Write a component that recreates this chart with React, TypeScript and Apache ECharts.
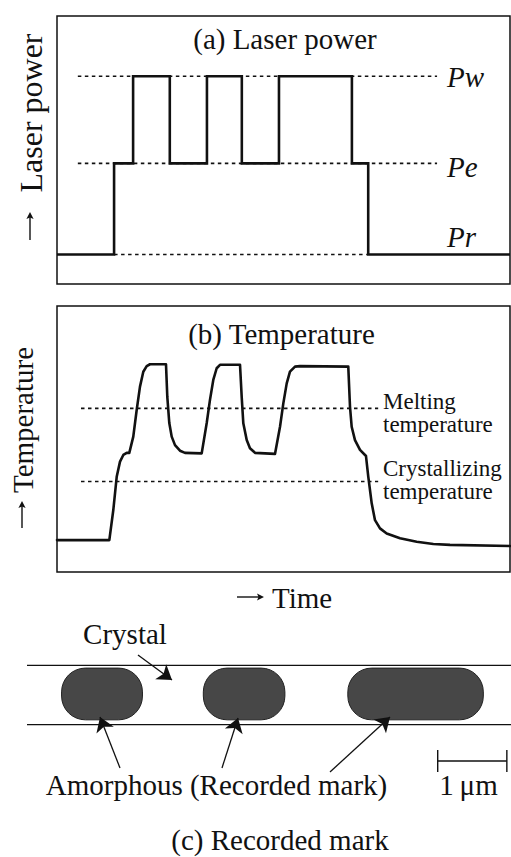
import React, { useEffect, useRef } from "react";
import * as echarts from "echarts";

// ---------- (a) Laser power ----------
const LEVEL_PR = 11;
const LEVEL_PE = 45;
const LEVEL_PW = 77.5;
const laserTimes = [0, 12.6, 16.8, 24.9, 33.1, 40.8, 49.0, 65.1, 68.7, 100];
const laserLevels = [LEVEL_PR, LEVEL_PE, LEVEL_PW, LEVEL_PE, LEVEL_PW, LEVEL_PE, LEVEL_PW, LEVEL_PE, LEVEL_PR, LEVEL_PR];
const laserRefRange = [4.6, 83.9];
const prRefRange = [12.6, 68.4];
const laserLevelNames = ["Pw", "Pe", "Pr"];

// ---------- (b) Temperature ----------
const tempTimes = [0, 11.55, 12.43, 13.18, 13.91, 14.64, 15.39, 15.96, 16.84, 17.59, 18.32, 19.05, 19.8, 20.53, 24.06, 24.35, 24.79, 25.32, 26.05, 27.15, 28.26, 31.94, 33.05, 33.77, 34.5, 35.25, 35.98, 40.4, 40.77, 41.13, 41.88, 42.6, 43.71, 48.12, 49.23, 49.96, 50.71, 51.43, 52.54, 53.64, 64.3, 64.68, 65.05, 65.78, 66.89, 68.21, 68.72, 69.47, 70.2, 71.3, 72.78, 75.72, 79.4, 83.07, 86.75, 100];
const tempValues = [12.0, 12.0, 23.3, 35.8, 41.5, 44.0, 44.8, 44.8, 50.9, 60.9, 69.7, 75.3, 77.4, 78.1, 78.1, 65.8, 56.0, 50.9, 47.7, 45.6, 44.8, 44.6, 56.0, 64.7, 72.2, 76.6, 77.9, 77.9, 65.9, 55.9, 49.6, 46.5, 44.8, 44.4, 54.6, 63.4, 70.9, 75.3, 77.2, 77.4, 77.2, 62.1, 54.6, 49.6, 45.9, 43.6, 35.8, 25.8, 19.5, 16.4, 14.5, 12.7, 11.4, 10.5, 10.2, 9.8];
const MELTING_T = 61.5;
const CRYSTALLIZING_T = 34.0;
const tempRefRange = [5.3, 70.9];
const tempRefNames = ["Melting\ntemperature", "Crystallizing\ntemperature"];

// ---------- (c) Recorded mark (µm) ----------
const markStarts = [0.5, 2.55, 4.64];
const markEnds = [1.67, 3.73, 6.6];
const markTop = 0.39;
const markBottom = -0.36;
const trackEdges = [0.43, -0.43];
const trackRange = [0, 7];
const scaleBarStart = 5.94;
const scaleBarLength = 1;
const scaleBarLevel = -0.957;
const arrowFrom = [[1.605, 0.58], [1.345, -1.058], [2.82, -1.058], [4.382, -1.116]];
const arrowTo = [[2.097, 0.217], [1.056, -0.319], [3.052, -0.333], [5.25, -0.319]];

const SERIF = "Liberation Serif, Times New Roman, serif";
const INK = "#111";

export default function App() {
  const ref = useRef<HTMLDivElement>(null);

  useEffect(() => {
    if (!ref.current) return;
    const chart = echarts.init(ref.current, null, { renderer: "svg" });

    const hiddenAxis = (gridIndex: number, min: number, max: number) => ({
      type: "value",
      gridIndex,
      min,
      max,
      show: false,
      axisLine: { show: false },
      axisTick: { show: false },
      axisLabel: { show: false },
      splitLine: { show: false },
    });

    const dotted = (xi: number, from: number, to: number, y: number) => ({
      type: "line",
      xAxisIndex: xi,
      yAxisIndex: xi,
      data: [[from, y], [to, y]],
      symbol: "none",
      silent: true,
      z: 1,
      lineStyle: { color: INK, width: 1.6, type: [3.5, 3.5] },
    });

    const text = (t: string, x: number, y: number, size: number, extra: any = {}) => ({
      type: "text",
      x,
      y,
      ...(extra.rotation !== undefined ? { rotation: extra.rotation } : {}),
      style: {
        text: t,
        fill: INK,
        fontFamily: SERIF,
        fontSize: size,
        fontStyle: extra.italic ? "italic" : "normal",
        align: extra.align || "center",
        verticalAlign: "middle",
        ...(extra.lineHeight ? { lineHeight: extra.lineHeight } : {}),
      },
    });

    // small typographic arrow (→) drawn from tail (x1,y1) to head (x2,y2)
    const glyphArrow = (x1: number, y1: number, x2: number, y2: number) => {
      const dx = x2 - x1, dy = y2 - y1;
      const len = Math.hypot(dx, dy);
      const ux = dx / len, uy = dy / len;
      const hl = 7, hw = 3.6;
      const bx = x2 - ux * hl, by = y2 - uy * hl;
      return {
        type: "group",
        children: [
          { type: "line", shape: { x1, y1, x2: bx + ux * 2, y2: by + uy * 2 }, style: { stroke: INK, lineWidth: 1.4 } },
          {
            type: "polygon",
            shape: { points: [[x2, y2], [bx - uy * hw, by + ux * hw], [bx + ux * 1.5, by + uy * 1.5], [bx + uy * hw, by - ux * hw]] },
            style: { fill: INK },
          },
        ],
      };
    };

    const option: any = {
      animation: false,
      backgroundColor: "#fff",
      grid: [
        { left: 57, top: 16, width: 453, height: 268, show: true, borderColor: INK, borderWidth: 1.5, backgroundColor: "transparent" },
        { left: 57, top: 306, width: 453, height: 266, show: true, borderColor: INK, borderWidth: 1.5, backgroundColor: "transparent" },
        { left: 27, top: 626, width: 484, height: 172.5, show: false },
      ],
      xAxis: [hiddenAxis(0, 0, 100), hiddenAxis(1, 0, 100), hiddenAxis(2, trackRange[0], trackRange[1])],
      yAxis: [hiddenAxis(0, 0, 100), hiddenAxis(1, 0, 100), hiddenAxis(2, -1.5, 1)],
      series: [
        dotted(0, laserRefRange[0], laserRefRange[1], LEVEL_PW),
        dotted(0, laserRefRange[0], laserRefRange[1], LEVEL_PE),
        dotted(0, prRefRange[0], prRefRange[1], LEVEL_PR),
        {
          type: "line",
          xAxisIndex: 0,
          yAxisIndex: 0,
          step: "end",
          symbol: "none",
          z: 3,
          data: laserTimes.map((t, i) => [t, laserLevels[i]]),
          lineStyle: { color: INK, width: 2.6, join: "miter" },
        },
        dotted(1, tempRefRange[0], tempRefRange[1], MELTING_T),
        dotted(1, tempRefRange[0], tempRefRange[1], CRYSTALLIZING_T),
        {
          type: "line",
          xAxisIndex: 1,
          yAxisIndex: 1,
          symbol: "none",
          z: 3,
          data: tempTimes.map((t, i) => [t, tempValues[i]]),
          lineStyle: { color: INK, width: 2.6, join: "round", cap: "round" },
        },
        ...trackEdges.map((e) => ({
          type: "line",
          xAxisIndex: 2,
          yAxisIndex: 2,
          symbol: "none",
          data: [[trackRange[0], e], [trackRange[1], e]],
          lineStyle: { color: INK, width: 1.3 },
        })),
        {
          type: "custom",
          xAxisIndex: 2,
          yAxisIndex: 2,
          z: 4,
          data: markStarts.map((s, i) => [s, markEnds[i]]),
          encode: { x: [0, 1] },
          renderItem: (params: any, api: any) => {
            const p0 = api.coord([api.value(0), markTop]);
            const p1 = api.coord([api.value(1), markBottom]);
            const h = p1[1] - p0[1];
            return {
              type: "rect",
              shape: { x: p0[0], y: p0[1], width: p1[0] - p0[0], height: h, r: h * 0.46 },
              style: { fill: "#474747", stroke: "#222", lineWidth: 1 },
            };
          },
        },
        {
          type: "custom",
          xAxisIndex: 2,
          yAxisIndex: 2,
          data: [[scaleBarStart, scaleBarStart + scaleBarLength, scaleBarLevel]],
          encode: { x: [0, 1], y: 2 },
          renderItem: (params: any, api: any) => {
            const a = api.coord([api.value(0), api.value(2)]);
            const b = api.coord([api.value(1), api.value(2)]);
            const s = { stroke: INK, lineWidth: 1.4 };
            return {
              type: "group",
              children: [
                { type: "line", shape: { x1: a[0], y1: a[1], x2: b[0], y2: b[1] }, style: s },
                { type: "line", shape: { x1: a[0], y1: a[1] - 11, x2: a[0], y2: a[1] + 11 }, style: s },
                { type: "line", shape: { x1: b[0], y1: b[1] - 11, x2: b[0], y2: b[1] + 11 }, style: s },
              ],
            };
          },
        },
        {
          type: "lines",
          coordinateSystem: "cartesian2d",
          xAxisIndex: 2,
          yAxisIndex: 2,
          clip: false,
          z: 5,
          symbol: ["none", "arrow"],
          symbolSize: [10, 14],
          lineStyle: { color: INK, width: 1.3, opacity: 1 },
          data: arrowFrom.map((f, i) => ({ coords: [f, arrowTo[i]] })),
        },
      ],
      graphic: [
        text("(a) Laser power", 285, 38.5, 29),
        text(laserLevelNames[0], 447, 77, 29, { italic: true, align: "left" }),
        text(laserLevelNames[1], 447, 167, 29, { italic: true, align: "left" }),
        text(laserLevelNames[2], 447, 237, 29, { italic: true, align: "left" }),
        text("Laser power", 31, 113, 32, { rotation: Math.PI / 2 }),
        glyphArrow(30, 240, 30, 212),
        text("(b) Temperature", 281.5, 333.5, 29),
        text(tempRefNames[0], 383, 412.5, 23, { align: "left", lineHeight: 23 }),
        text(tempRefNames[1], 383, 480, 23, { align: "left", lineHeight: 23 }),
        text("Temperature", 23, 420, 29, { rotation: Math.PI / 2 }),
        glyphArrow(22, 528, 22, 501),
        glyphArrow(237, 597, 264, 597),
        text("Time", 272, 598, 29, { align: "left" }),
        text("Crystal", 125, 633.5, 29),
        text("Amorphous (Recorded mark)", 216.5, 785, 29),
        text("1\u2009μm", 468.5, 785, 29),
        text("(c) Recorded mark", 280, 840, 29),
      ],
    };

    chart.setOption(option);
    return () => chart.dispose();
  }, []);

  return (
    <div
      ref={ref}
      style={{ position: "absolute", left: 0, top: 0, width: 511, height: 857, background: "#fff" }}
    />
  );
}
